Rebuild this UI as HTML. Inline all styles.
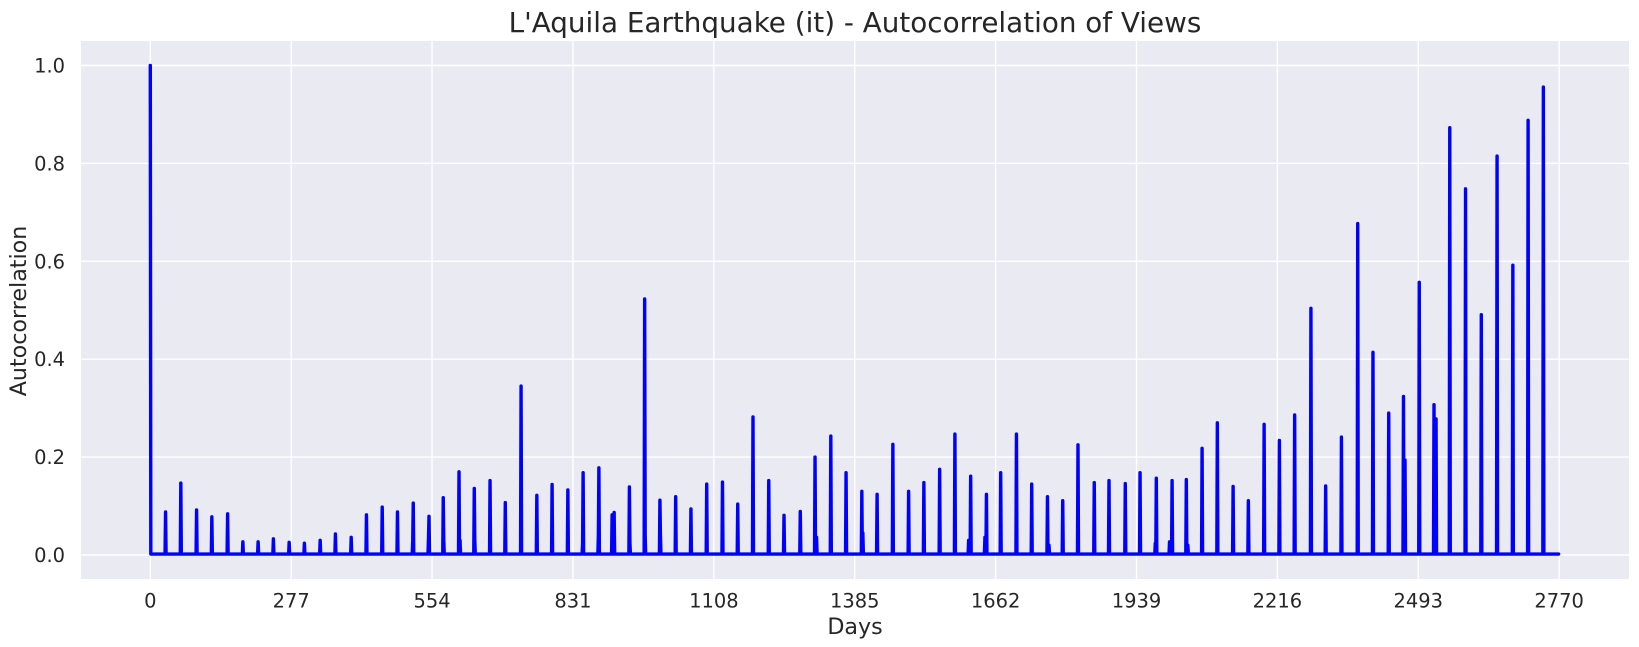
<!DOCTYPE html>
<html>
<head>
<meta charset="utf-8">
<title>L'Aquila Earthquake (it) - Autocorrelation of Views</title>
<style>
html,body{margin:0;padding:0;background:#fff;width:1639px;height:647px;overflow:hidden}
svg{display:block}
text{font-family:"DejaVu Sans","Liberation Sans",sans-serif;fill:#262626}
</style>
</head>
<body>
<svg id="chart" xmlns="http://www.w3.org/2000/svg" width="1639" height="647" viewBox="0 0 1639 647">
<rect x="81" y="41" width="1548" height="538" fill="#EAEAF2"/>
<g id="grid"></g>
<g id="series"></g>
<g id="xticks"></g>
<g id="yticks"></g>
<text x="855" y="32" text-anchor="middle" font-size="27.8">L'Aquila Earthquake (it) - Autocorrelation of Views</text>
<text x="855" y="634" text-anchor="middle" font-size="22.2">Days</text>
<text transform="translate(26,311) rotate(-90)" text-anchor="middle" font-size="22.2">Autocorrelation</text>
</svg>
<script>
const xTickLabels = [0, 277, 554, 831, 1108, 1385, 1662, 1939, 2216, 2493, 2770];
const yTickLabels = ["0.0", "0.2", "0.4", "0.6", "0.8", "1.0"];
const lastLag = 2769;
const baselineValue = 0.002;
const peakLags = [0,30,60,91,121,152,182,212,242,273,303,334,364,395,425,456,486,517,548,576,607,637,668,698,729,760,790,821,851,882,912,942,972,1002,1033,1063,1094,1125,1155,1185,1216,1246,1278,1307,1338,1368,1399,1429,1460,1491,1521,1552,1582,1613,1644,1672,1703,1733,1764,1794,1824,1856,1885,1917,1946,1978,2009,2037,2068,2098,2129,2159,2190,2220,2250,2282,2311,2342,2374,2404,2435,2464,2495,2524,2555,2586,2617,2648,2679,2709,2739];
const peakValues = [1,0.088,0.147,0.092,0.078,0.084,0.027,0.027,0.033,0.026,0.024,0.03,0.043,0.036,0.082,0.098,0.088,0.106,0.079,0.117,0.17,0.136,0.152,0.107,0.345,0.122,0.144,0.133,0.168,0.178,0.087,0.139,0.523,0.112,0.119,0.094,0.145,0.149,0.104,0.282,0.152,0.081,0.089,0.2,0.243,0.168,0.13,0.124,0.226,0.13,0.148,0.175,0.247,0.161,0.124,0.168,0.247,0.145,0.119,0.111,0.225,0.148,0.152,0.146,0.168,0.157,0.152,0.154,0.218,0.27,0.14,0.111,0.267,0.234,0.286,0.504,0.141,0.241,0.677,0.414,0.29,0.324,0.557,0.307,0.873,0.748,0.491,0.815,0.592,0.888,0.956];
const shoulderLags = [516,547,577,609,638,850,881,908,943,973,1003,1310,1401,1609,1641,1767,1976,2004,2040,2467,2528];
const shoulderValues = [0.03,0.035,0.03,0.03,0.03,0.024,0.04,0.082,0.025,0.04,0.04,0.036,0.045,0.03,0.036,0.02,0.024,0.027,0.02,0.194,0.278];

const NS = 'http://www.w3.org/2000/svg';
function xScale(day){ return 150.3 + day * 0.5086; }
function yScale(v){ return 555 - v * 489.5; }

const grid = document.getElementById('grid');
const xticks = document.getElementById('xticks');
const yticks = document.getElementById('yticks');
const series = document.getElementById('series');

xTickLabels.forEach(function(t){
  const l = document.createElementNS(NS,'line');
  
  
  l.setAttribute('x1', xScale(t));
  l.setAttribute('x2', xScale(t));
  l.setAttribute('y1', 41);
  l.setAttribute('y2', 579);
  l.setAttribute('stroke', '#fff');
  l.setAttribute('stroke-width', '1.4');
  grid.appendChild(l);
  const s = document.createElementNS(NS,'text');
  
  
  s.setAttribute('x', xScale(t));
  s.setAttribute('y', 607.5);
  s.setAttribute('text-anchor', 'middle');
  s.setAttribute('font-size', '19.44');
  s.textContent = String(t);
  xticks.appendChild(s);
});

yTickLabels.forEach(function(t){
  const v = parseFloat(t);
  const l = document.createElementNS(NS,'line');
  
  
  l.setAttribute('x1', 81);
  l.setAttribute('x2', 1629);
  l.setAttribute('y1', yScale(v));
  l.setAttribute('y2', yScale(v));
  l.setAttribute('stroke', '#fff');
  l.setAttribute('stroke-width', '1.4');
  grid.appendChild(l);
  const s = document.createElementNS(NS,'text');
  
  
  s.setAttribute('x', 65);
  s.setAttribute('y', yScale(v) + 7);
  s.setAttribute('text-anchor', 'end');
  s.setAttribute('font-size', '19.44');
  s.textContent = t;
  yticks.appendChild(s);
});

const valuesByLag = {};
shoulderLags.forEach(function(lag, i){ valuesByLag[lag] = shoulderValues[i]; });
peakLags.forEach(function(lag, i){ valuesByLag[lag] = peakValues[i]; });
const lags = new Set([0, lastLag]);
Object.keys(valuesByLag).forEach(function(k){
  const lag = +k;
  lags.add(lag);
  if (lag > 0) lags.add(lag - 1);
  if (lag < lastLag) lags.add(lag + 1);
});
const sorted = Array.from(lags).sort(function(a,b){ return a - b; });
const d = sorted.map(function(lag, i){
  const v = (lag in valuesByLag) ? valuesByLag[lag] : baselineValue;
  return (i ? 'L' : 'M') + xScale(lag).toFixed(2) + ' ' + yScale(v).toFixed(2);
}).join('');
const path = document.createElementNS(NS,'path');


path.setAttribute('d', d);
path.setAttribute('fill', 'none');
path.setAttribute('stroke', '#0000ff');
path.setAttribute('stroke-width', '3.4');
path.setAttribute('stroke-linejoin', 'round');
path.setAttribute('stroke-linecap', 'round');
series.appendChild(path);
</script>
</body>
</html>
